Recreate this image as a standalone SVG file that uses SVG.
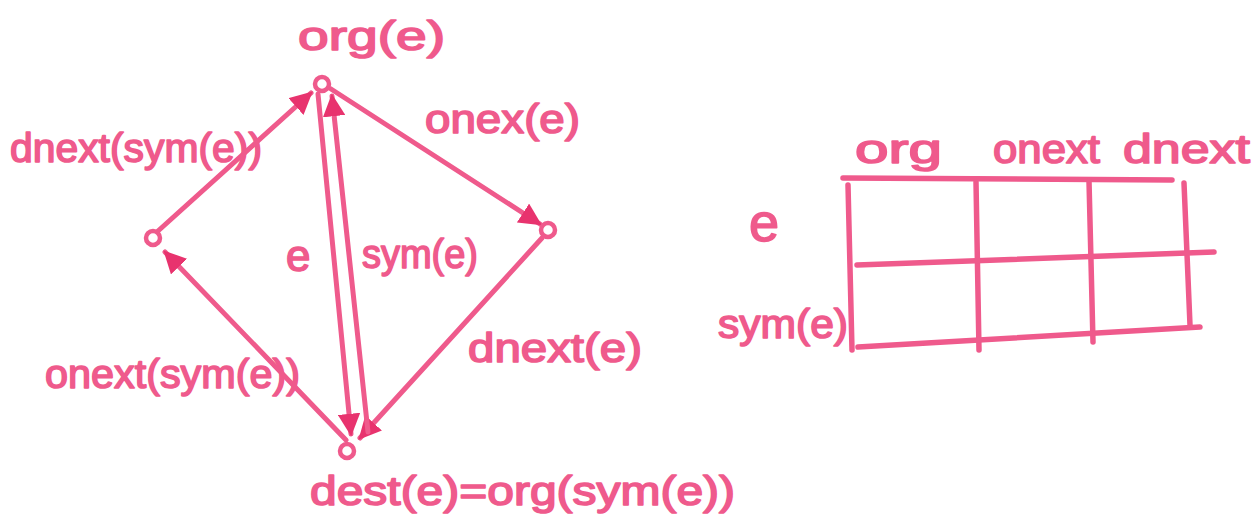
<svg xmlns="http://www.w3.org/2000/svg" width="1259" height="529" viewBox="0 0 1259 529">
<style>
.t{font-family:"Liberation Sans",Arial,sans-serif;font-size:40px;fill:#EF5A8C;stroke:#EF5A8C;stroke-width:1.6;stroke-linejoin:round;}
.e{stroke:#EF5A8C;stroke-width:5;fill:none;stroke-linecap:round;}
.n{stroke:#EF5A8C;stroke-width:4.5;fill:#fff;}
.g{stroke:#EF5A8C;stroke-width:5.5;fill:none;stroke-linecap:round;}
</style>
<defs>
<marker id="ah" viewBox="0 0 10 10" refX="9" refY="5" markerWidth="4.5" markerHeight="4.5" orient="auto" markerUnits="strokeWidth">
<path d="M0,0 L10,5 L0,10 z" fill="#E8336E"/>
</marker>
</defs>
<rect width="1259" height="529" fill="#fff"/>
<g id="connectors">
<line class="e" x1="158" y1="231" x2="311" y2="93" marker-end="url(#ah)"/>
<line class="e" x1="331" y1="89" x2="540" y2="224" marker-end="url(#ah)"/>
<line class="e" x1="542" y1="238" x2="360" y2="438" marker-end="url(#ah)"/>
<line class="e" x1="346" y1="440" x2="165" y2="252" marker-end="url(#ah)"/>
<line class="e" x1="318" y1="94" x2="351" y2="434" marker-end="url(#ah)"/>
<line class="e" x1="368" y1="432" x2="332" y2="96" marker-end="url(#ah)"/>
</g>
<g id="node-org"><circle class="n" cx="322" cy="84" r="7"/></g>
<g id="node-left"><circle class="n" cx="153" cy="238" r="7"/></g>
<g id="node-right"><circle class="n" cx="548" cy="230" r="7"/></g>
<g id="node-dest"><circle class="n" cx="347" cy="451" r="7"/></g>
<g id="labels">
<text class="t" x="298" y="50" textLength="147" lengthAdjust="spacingAndGlyphs">org(e)</text>
<text class="t" x="10" y="162" textLength="252" lengthAdjust="spacingAndGlyphs">dnext(sym(e))</text>
<text class="t" x="425" y="133" textLength="155" lengthAdjust="spacingAndGlyphs">onex(e)</text>
<text class="t" x="286" y="271" style="font-size:44px">e</text>
<text class="t" x="362" y="268" textLength="116" lengthAdjust="spacingAndGlyphs">sym(e)</text>
<text class="t" x="468" y="362" textLength="174" lengthAdjust="spacingAndGlyphs">dnext(e)</text>
<text class="t" x="45" y="388" textLength="255" lengthAdjust="spacingAndGlyphs">onext(sym(e))</text>
<text class="t" x="310" y="505" textLength="425" lengthAdjust="spacingAndGlyphs">dest(e)=org(sym(e))</text>
</g>
<g id="table">
<line class="g" x1="843" y1="178" x2="1172" y2="180"/>
<line class="g" x1="848" y1="185" x2="852" y2="350"/>
<line class="g" x1="976" y1="182" x2="979" y2="350"/>
<line class="g" x1="1089" y1="181" x2="1093" y2="342"/>
<line class="g" x1="1184" y1="183" x2="1190" y2="325"/>
<line class="g" x1="857" y1="265" x2="1214" y2="252"/>
<line class="g" x1="858" y1="347" x2="1200" y2="327"/>
<text class="t" x="855" y="163" textLength="87" lengthAdjust="spacingAndGlyphs">org</text>
<text class="t" x="993" y="163" textLength="107" lengthAdjust="spacingAndGlyphs">onext</text>
<text class="t" x="1123" y="163" textLength="127" lengthAdjust="spacingAndGlyphs">dnext</text>
<text class="t" x="749" y="241" style="font-size:54px">e</text>
<text class="t" x="718" y="338" textLength="130" lengthAdjust="spacingAndGlyphs">sym(e)</text>
</g>
</svg>
